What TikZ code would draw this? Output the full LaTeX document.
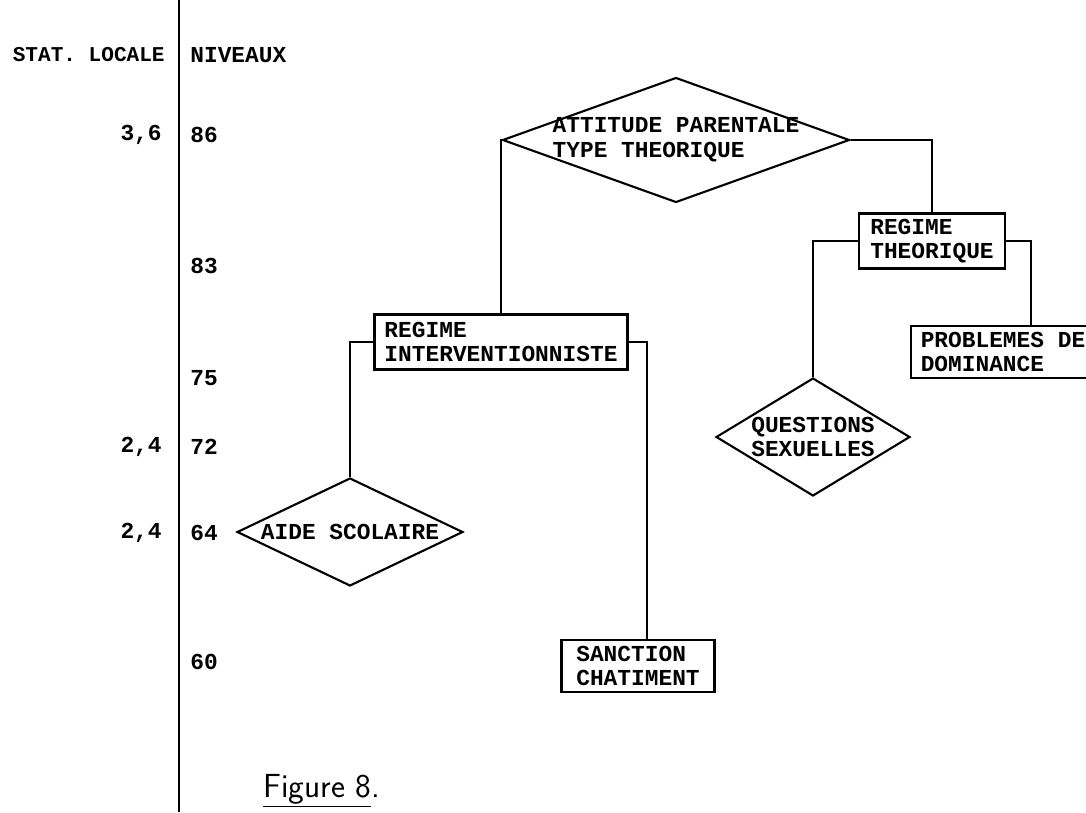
\documentclass[tikz,border=0pt]{standalone}
\usepackage{fontspec}
\setmonofont{Liberation Mono}
\usetikzlibrary{shapes.geometric,calc}

\begin{document}
\begin{tikzpicture}[
    x=0.02cm, y=-0.02cm,
    font=\ttfamily\bfseries\fontsize{13}{14}\selectfont,
    regime/.style={
        draw,
        line width=1.2pt,
        align=left,
        inner sep=3pt,
        minimum height=1.04cm
    },
    facteur/.style={
        draw,
        diamond,
        line width=1.2pt,
        inner sep=0pt
    },
    niveau/.style={
        anchor=west,
        inner sep=0pt
    },
    statloc/.style={
        anchor=east,
        inner sep=0pt
    },
    link/.style={line width=1.1pt}
]
\clip (0,0) rectangle (1086,812);

% --- Axis ---
\coordinate (axetop) at (179,0);
\coordinate (axebot) at (179,812);
\draw[link] (axetop) -- (axebot);

\node[statloc, font=\ttfamily\bfseries\fontsize{12}{14}\selectfont]
    (stathead) at (165,55) {STAT. LOCALE};
\node[niveau] (nivhead) at (190,55) {NIVEAUX};

\foreach \lv/\y in {86/135, 83/266, 75/378, 72/447, 64/533, 60/662}
    \node[niveau] (n\lv) at (190,\y) {\lv};

\node[statloc] (s86) at (162,135) {3,6};
\node[statloc] (s72) at (162,447) {2,4};
\node[statloc] (s64) at (162,533) {2,4};

% --- Top ---
\node[facteur, minimum width=6.94cm, minimum height=2.5cm,
      label={[align=left]center:ATTITUDE PARENTALE\\TYPE THEORIQUE}]
      (attitude) at (676,140) {};

% --- Regimes ---
\node[regime, minimum width=5.06cm, minimum height=1.1cm] (inter) at (501,342)
    {REGIME\\INTERVENTIONNISTE};
\node[regime, minimum width=2.92cm] (theo) at (932,241) {REGIME\\THEORIQUE};

% --- Leaves ---
\node[facteur, minimum width=4.52cm, minimum height=2.16cm,
      label=center:AIDE SCOLAIRE] (aide) at (350,532) {};
\node[regime, minimum width=3.06cm] (sanction) at (638,666) {SANCTION\\CHATIMENT};
\node[facteur, minimum width=3.88cm, minimum height=2.36cm,
      label={[align=left]center:QUESTIONS\\SEXUELLES}] (quest) at (813,437) {};
\node[regime, minimum width=3.68cm] (prob) at (1003,352) {PROBLEMES DE\\DOMINANCE};

% --- Connections ---
\draw[link] (attitude.west) -| (inter.north);
\draw[link] (attitude.east) -| (theo.north);
\draw[link] (inter.west) -| (aide.north);
\draw[link] (inter.east) -| ($(sanction.north west)!0.56!(sanction.north east)$);
\draw[link] (theo.west) -| (quest.north);
\draw[link] (theo.east) -| ($(prob.north west)!0.65!(prob.north east)$);

% --- Caption ---
\node[anchor=base west, inner sep=0pt, font=\sffamily\fontsize{19}{22}\selectfont]
    (caption) at (263,797) {\underline{Figure 8}.};

\end{tikzpicture}
\end{document}
